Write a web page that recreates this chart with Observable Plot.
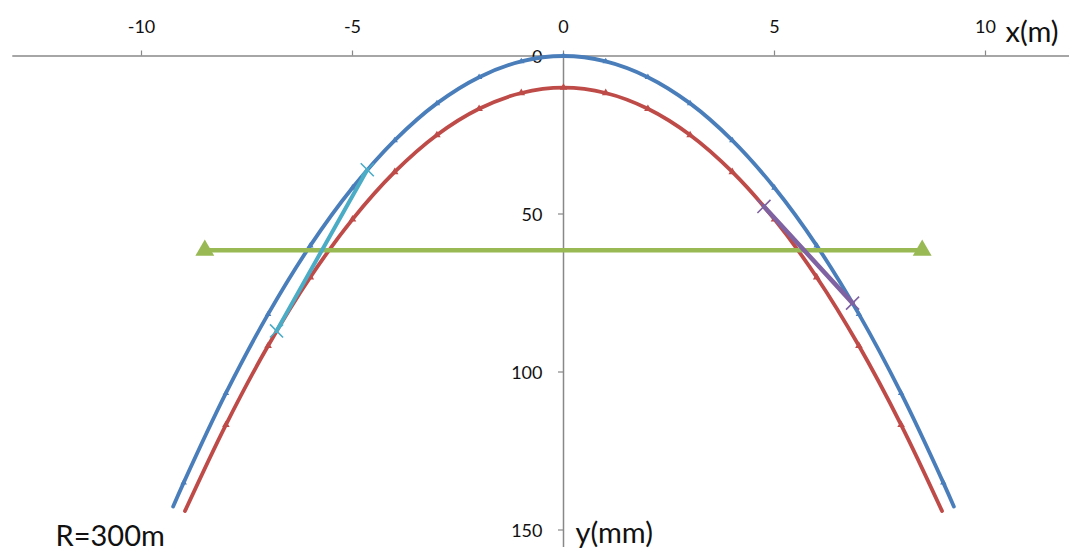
<!DOCTYPE html>
<html>
<head>
<meta charset="utf-8">
<script src="https://cdn.jsdelivr.net/npm/d3@7"></script>
<script src="https://cdn.jsdelivr.net/npm/@observablehq/plot@0.6"></script>
<style>
  html, body { margin: 0; padding: 0; background: #fff; }
  #chart { width: 1069px; height: 557px; }
</style>
</head>
<body>
<div id="chart"></div>
<script>
// Axis ticks
const xTicks = [-10, -5, 0, 5, 10];
const yTicks = [0, 50, 100, 150];
const xAxisExtent = [-13.05, 12.05];
const yAxisExtent = [0, 155.5];

// Blue curve (design alignment)
const blueX = [-9.25, -9, -8, -7, -6, -5, -4, -3, -2, -1, 0, 1, 2, 3, 4, 5, 6, 7, 8, 9, 9.25];
const blueY = [142.6, 135, 106.7, 81.7, 60, 41.7, 26.7, 15, 6.7, 1.7, 0, 1.7, 6.7, 15, 26.7, 41.7, 60, 81.7, 106.7, 135, 142.6];
// Red curve (offset alignment)
const redX = [-8.97, -8, -7, -6, -5, -4, -3, -2, -1, 0, 1, 2, 3, 4, 5, 6, 7, 8, 8.97];
const redY = [144, 116.7, 91.7, 70, 51.7, 36.7, 25, 16.7, 11.7, 10, 11.7, 16.7, 25, 36.7, 51.7, 70, 91.7, 116.7, 144];
// Green horizontal chord
const greenX = [-8.5, 8.5];
const greenY = [61.5, 61.5];
// Cyan chord (left)
const cyanX = [-4.65, -6.8];
const cyanY = [36, 87];
// Purple chord (right)
const purpleX = [4.75, 6.85];
const purpleY = [47.6, 78.2];

const blue = blueX.map((x, i) => ({x, y: blueY[i]}));
const red = redX.map((x, i) => ({x, y: redY[i]}));
const green = greenX.map((x, i) => ({x, y: greenY[i]}));
const cyan = cyanX.map((x, i) => ({x, y: cyanY[i]}));
const purple = purpleX.map((x, i) => ({x, y: purpleY[i]}));
const blueMarks = blue.filter(d => Number.isInteger(d.x));
const redMarks = red.filter(d => Number.isInteger(d.x));

const C = {
  blue: "#4A7EBB", red: "#BE4B48", green: "#98B954",
  cyan: "#4BACC6", purple: "#7F62A1", axis: "#888888", text: "#111111"
};
const font = "Lato, 'Open Sans', sans-serif";

const plot = Plot.plot({
  width: 1069,
  height: 557,
  marginTop: 0, marginRight: 0, marginBottom: 0, marginLeft: 0,
  style: {fontFamily: font, background: "#fff", overflow: "visible"},
  x: {domain: [-10, 10], range: [141, 985], axis: null},
  y: {domain: [0, 150], range: [55.5, 529.5], axis: null},
  marks: [
    // axis lines
    Plot.ruleY([0], {x1: xAxisExtent[0], x2: xAxisExtent[1], stroke: C.axis, strokeWidth: 1.5}),
    Plot.ruleX([0], {y1: yAxisExtent[0], y2: yAxisExtent[1], stroke: C.axis, strokeWidth: 1.5}),
    // tick marks
    Plot.ruleX(xTicks, {x: d => d, y1: 0, y2: 0, insetTop: -5, stroke: C.axis, strokeWidth: 1.2}),
    Plot.ruleY(yTicks, {y: d => d, x1: 0, x2: 0, insetLeft: -5, stroke: C.axis, strokeWidth: 1.2}),
    // tick labels
    Plot.text(xTicks, {x: d => d, y: 0, dy: -29, text: d => String(d), fontSize: 18, fill: C.text}),
    Plot.text(yTicks, {x: 0, y: d => d, dx: -21, dy: 1, text: d => String(d), textAnchor: "end", fontSize: 18, fill: C.text}),
    // curves
    Plot.line(blue, {x: "x", y: "y", curve: "catmull-rom", stroke: C.blue, strokeWidth: 3.8}),
    Plot.dot(blueMarks, {x: "x", y: "y", r: 2.4, fill: C.blue, symbol: "triangle"}),
    Plot.line(red, {x: "x", y: "y", curve: "catmull-rom", stroke: C.red, strokeWidth: 3.8}),
    Plot.dot(redMarks, {x: "x", y: "y", r: 2.8, fill: C.red, symbol: "triangle"}),
    // green chord
    Plot.line(green, {x: "x", y: "y", stroke: C.green, strokeWidth: 4.5}),
    Plot.dot(green, {x: "x", y: "y", symbol: "triangle", r: 7, fill: C.green}),
    // cyan chord
    Plot.line(cyan, {x: "x", y: "y", stroke: C.cyan, strokeWidth: 4}),
    Plot.dot(cyan, {x: "x", y: "y", symbol: "times", r: 6, stroke: C.cyan, strokeWidth: 1.6}),
    // purple chord
    Plot.line(purple, {x: "x", y: "y", stroke: C.purple, strokeWidth: 4.5}),
    Plot.dot(purple, {x: "x", y: "y", symbol: "times", r: 6, stroke: C.purple, strokeWidth: 1.6}),
    // axis titles
    Plot.text(["x(m)"], {x: 10, y: 0, dx: 20, dy: -23, text: d => d, textAnchor: "start", fontSize: 29, fill: C.text}),
    Plot.text(["y(mm)"], {x: 0, y: 150, dx: 12, dy: 4, text: d => d, textAnchor: "start", fontSize: 29, fill: C.text}),
    Plot.text(["R=300m"], {frameAnchor: "bottom-left", dx: 55, dy: -12, text: d => d, textAnchor: "start", fontSize: 29, fill: C.text})
  ]
});
document.getElementById("chart").appendChild(plot);
</script>
</body>
</html>
